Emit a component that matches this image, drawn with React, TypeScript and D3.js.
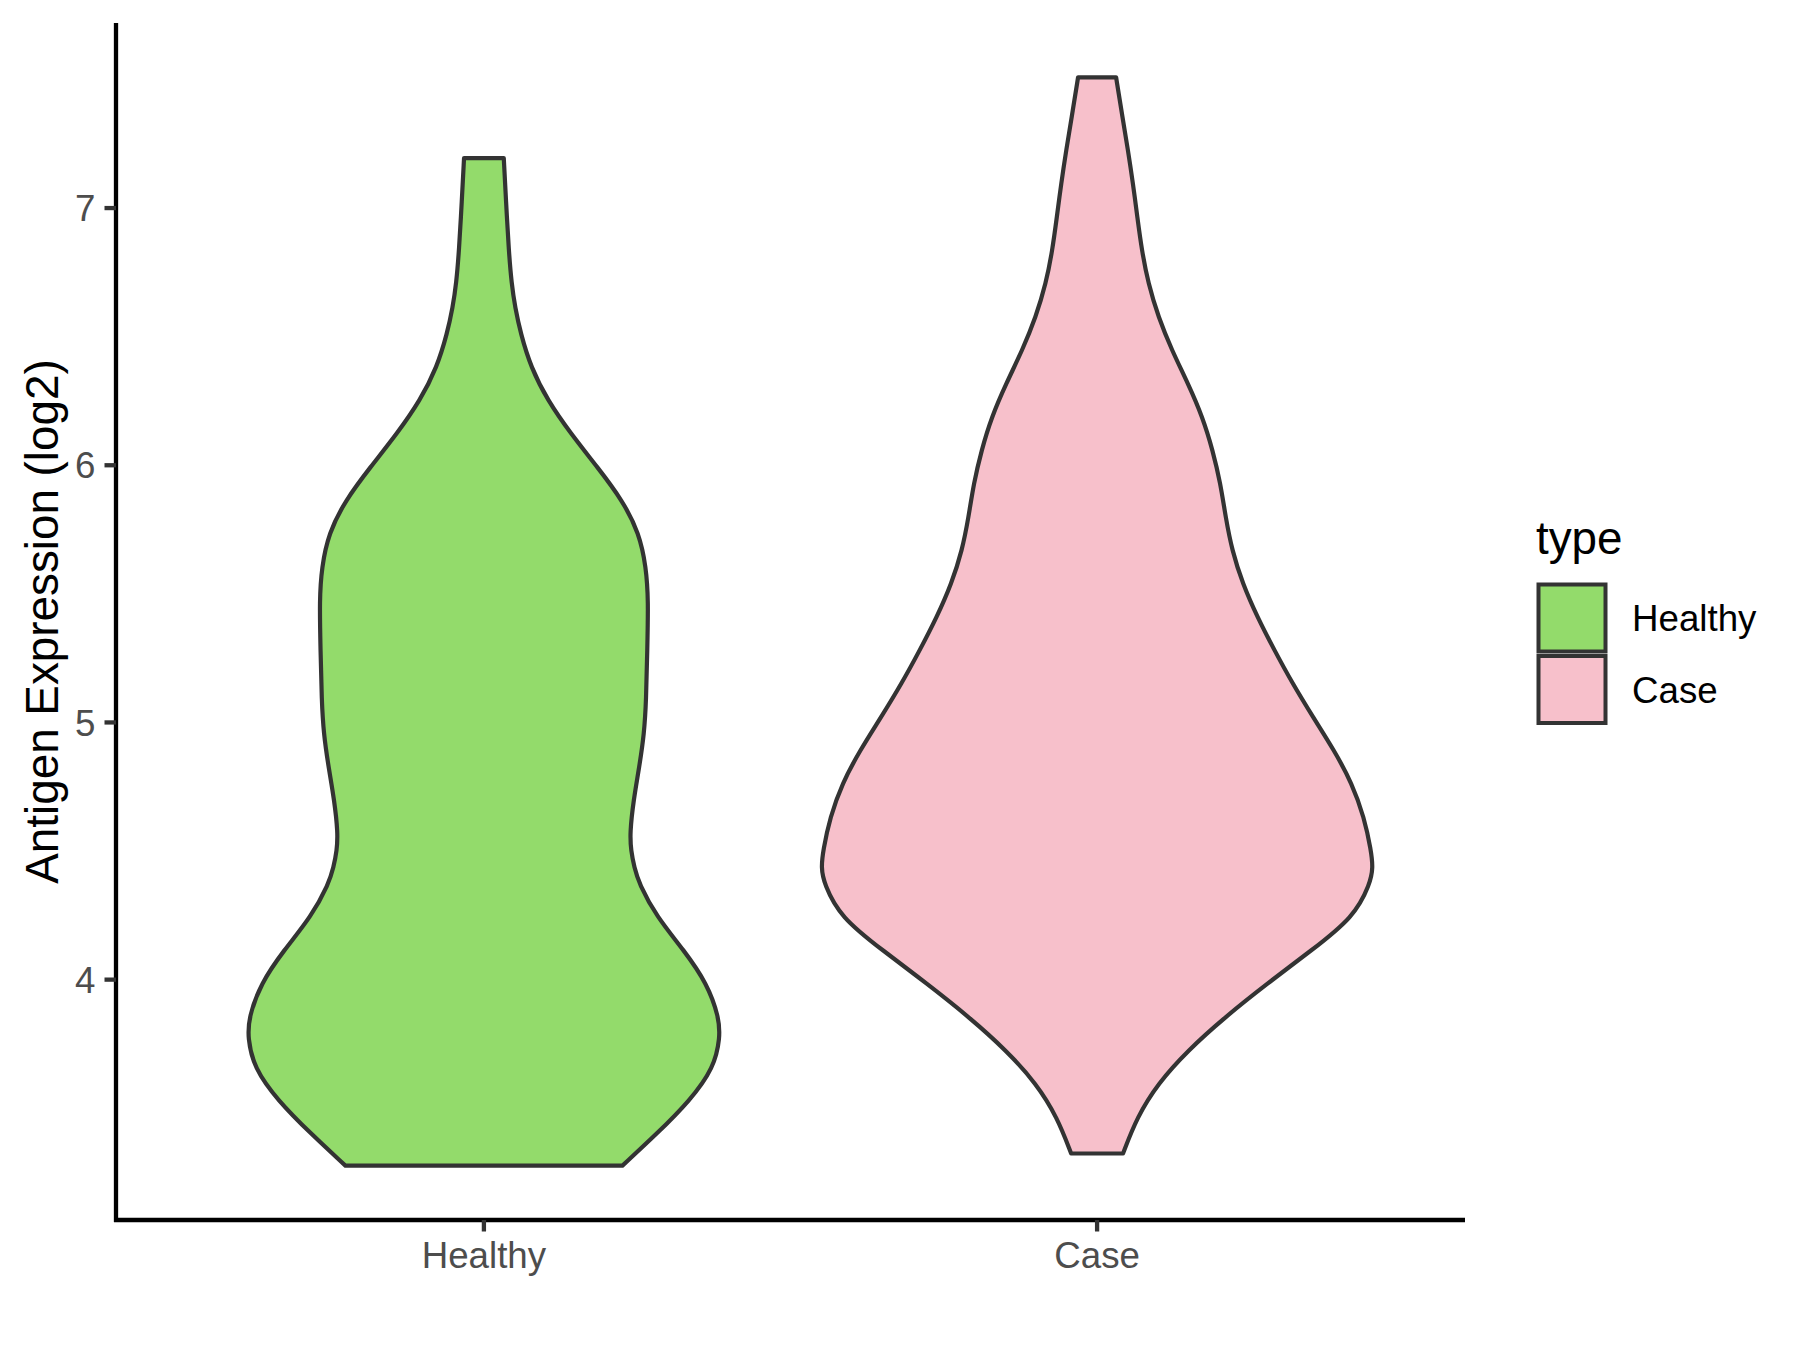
import React from "react";
import * as d3 from "d3";

const categories = ["Healthy", "Case"];
const fills = ["#93DB6B", "#F7C0CB"];

// Expression value (log2) along each violin, and its scaled density (1 = widest violin)
const healthyValues = [3.277, 3.402, 3.53, 3.658, 3.775, 3.853, 3.985, 4.113, 4.246, 4.374, 4.436, 4.502, 4.569, 4.697, 4.826, 4.958, 5.086, 5.28, 5.475, 5.603, 5.735, 5.864, 5.992, 6.124, 6.252, 6.381, 6.513, 6.614, 6.708, 6.836, 7.03, 7.194];
const healthyDensity = [0.502, 0.628, 0.747, 0.834, 0.856, 0.852, 0.809, 0.726, 0.625, 0.562, 0.545, 0.533, 0.529, 0.542, 0.563, 0.581, 0.588, 0.592, 0.596, 0.588, 0.563, 0.502, 0.412, 0.314, 0.231, 0.17, 0.133, 0.113, 0.1, 0.09, 0.08, 0.072];

const caseValues = [3.324, 3.464, 3.596, 3.725, 3.853, 3.985, 4.113, 4.242, 4.374, 4.436, 4.502, 4.631, 4.763, 4.892, 5.02, 5.152, 5.28, 5.409, 5.541, 5.669, 5.797, 5.93, 6.058, 6.186, 6.319, 6.447, 6.576, 6.708, 6.836, 6.964, 7.096, 7.225, 7.353, 7.508];
const caseDensity = [0.094, 0.144, 0.22, 0.329, 0.462, 0.617, 0.776, 0.93, 0.99, 1.0, 0.993, 0.968, 0.924, 0.859, 0.783, 0.708, 0.643, 0.581, 0.527, 0.489, 0.466, 0.447, 0.419, 0.383, 0.329, 0.271, 0.222, 0.185, 0.162, 0.146, 0.13, 0.112, 0.092, 0.069];

const yTicks = [4, 5, 6, 7];

const W = 1800;
const H = 1350;
const panel = { left: 116, right: 1465, top: 23, bottom: 1220 };
const FONT = "'Liberation Sans', Arial, Helvetica, sans-serif";

export default function App() {
  const series = [
    { values: healthyValues, density: healthyDensity },
    { values: caseValues, density: caseDensity },
  ];
  const allVals = [...healthyValues, ...caseValues];
  const [mn, mx] = d3.extent(allVals) as [number, number];
  const pad = (mx - mn) * 0.05;
  const y = d3.scaleLinear().domain([mn - pad, mx + pad]).range([panel.bottom, panel.top]);
  const x = d3.scaleLinear().domain([0.4, categories.length + 0.6]).range([panel.left, panel.right]);
  const unit = x(1) - x(0);
  const halfMax = 0.45 * unit;

  const tickLen = 11.5;

  return (
    <svg width={W} height={H} style={{ position: "absolute", left: 0, top: 0, background: "#fff" }} fontFamily={FONT}>
      <rect x={0} y={0} width={W} height={H} fill="#fff" />
      {series.map((s, i) => {
        const cx = x(i + 1);
        const pts = s.values.map((v, j) => ({ v, d: s.density[j] }));
        const area = d3
          .area<{ v: number; d: number }>()
          .y((p) => y(p.v))
          .x0((p) => cx - p.d * halfMax)
          .x1((p) => cx + p.d * halfMax)
          .curve(d3.curveBasis);
        return (
          <path key={i} d={area(pts) || ""} fill={fills[i]} stroke="#333333" strokeWidth={4.2} strokeLinejoin="round" />
        );
      })}

      {/* axes */}
      <line x1={panel.left} x2={panel.left} y1={panel.top} y2={panel.bottom + 2} stroke="#000" strokeWidth={4.3} />
      <line x1={panel.left - 2} x2={panel.right} y1={panel.bottom} y2={panel.bottom} stroke="#000" strokeWidth={4.3} />

      {yTicks.map((t) => (
        <g key={t}>
          <line x1={panel.left - tickLen} x2={panel.left} y1={y(t)} y2={y(t)} stroke="#333333" strokeWidth={4.3} />
          <text x={panel.left - tickLen - 9.2} y={y(t)} dy="0.36em" textAnchor="end" fontSize={36.7} fill="#4D4D4D">
            {t}
          </text>
        </g>
      ))}
      {categories.map((c, i) => (
        <g key={c}>
          <line x1={x(i + 1)} x2={x(i + 1)} y1={panel.bottom} y2={panel.bottom + tickLen} stroke="#333333" strokeWidth={4.3} />
          <text x={x(i + 1)} y={1268} textAnchor="middle" fontSize={36.7} fill="#4D4D4D">
            {c}
          </text>
        </g>
      ))}

      <text
        transform={`translate(58, ${(panel.top + panel.bottom) / 2}) rotate(-90)`}
        textAnchor="middle"
        fontSize={45.8}
        fill="#000"
      >
        Antigen Expression (log2)
      </text>

      {/* legend */}
      <text x={1536} y={554} fontSize={45.8} fill="#000">
        type
      </text>
      {categories.map((c, i) => (
        <g key={c}>
          <rect x={1538.5} y={584.5 + i * 71.5} width={67} height={67} fill={fills[i]} stroke="#333333" strokeWidth={4} />
          <text x={1632} y={631 + i * 71.5} fontSize={36.7} fill="#000">
            {c}
          </text>
        </g>
      ))}
    </svg>
  );
}
